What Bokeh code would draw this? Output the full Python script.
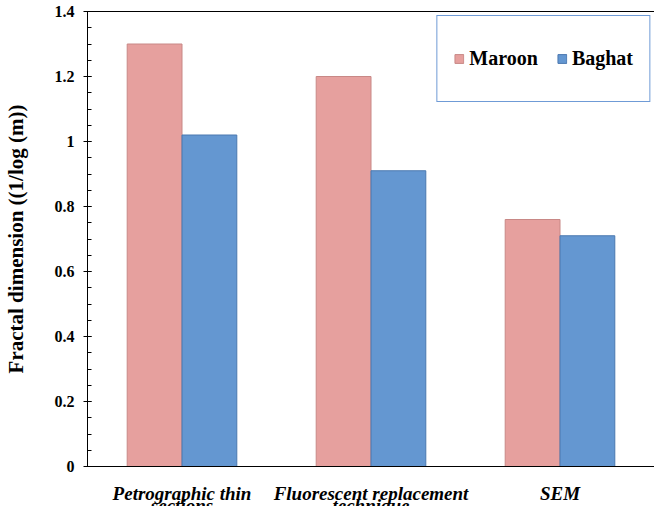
from bokeh.plotting import figure
from bokeh.layouts import column
from bokeh.models import (ColumnDataSource, FactorRange, Range1d, FixedTicker, CustomJSTickFormatter,
                          Legend, LegendItem, CategoricalAxis)
from bokeh.core.properties import value
from bokeh.transform import dodge
from bokeh.embed import file_html
from bokeh.resources import INLINE

categories = ["Petrographic thin\nsections", "Fluorescent replacement\ntechnique", "SEM"]
maroon = [1.30, 1.20, 0.76]
baghat = [1.02, 0.91, 0.71]
y_ticks = [0, 0.2, 0.4, 0.6, 0.8, 1.0, 1.2, 1.4]
y_minor = [round(0.05 * i, 2) for i in range(29)]

SERIF = "Liberation Serif"
PINK = "#e6a09e"
BLUE = "#6497d1"

first_lines = [c.split("\n")[0] for c in categories]
second_lines = [c.split("\n")[1] if "\n" in c else "" for c in categories]

source = ColumnDataSource(dict(cat=first_lines, maroon=maroon, baghat=baghat))
x_range = FactorRange(*first_lines, range_padding=0.0)

# ---------------- main chart ----------------
p = figure(x_range=x_range, y_range=Range1d(0, 1.4),
           width=654, height=476, output_backend="svg", toolbar_location=None,
           min_border_left=82, min_border_right=0, min_border_top=11, min_border_bottom=10)
p.outline_line_color = None
p.grid.grid_line_color = None

r1 = p.vbar(x=dodge("cat", -0.145, range=x_range), top="maroon", width=0.29, source=source,
            fill_color=PINK, line_color="#c88886", line_width=1)
r2 = p.vbar(x=dodge("cat", 0.145, range=x_range), top="baghat", width=0.29, source=source,
            fill_color=BLUE, line_color="#4b78b0", line_width=1)

yax = p.yaxis[0]
yax.ticker = FixedTicker(ticks=y_ticks, minor_ticks=y_minor)
yax.formatter = CustomJSTickFormatter(code="return tick.toFixed(1).replace(/\\.0$/, '');")
yax.major_tick_in = 4
yax.major_tick_out = 4
yax.minor_tick_in = 4
yax.minor_tick_out = 0
yax.axis_line_color = "black"
yax.major_tick_line_color = "black"
yax.minor_tick_line_color = "black"
yax.major_label_text_font = SERIF
yax.major_label_text_font_style = "bold"
yax.major_label_text_font_size = "16px"
yax.major_label_text_color = "black"
yax.major_label_standoff = 9
yax.axis_label = "Fractal dimension ((1/log (m))"
yax.axis_label_text_font = SERIF
yax.axis_label_text_font_style = "bold"
yax.axis_label_text_font_size = "21px"
yax.axis_label_text_color = "black"
yax.axis_label_standoff = 24

xax = p.xaxis[0]
xax.axis_line_color = "black"
xax.major_tick_line_color = None
xax.minor_tick_line_color = None
xax.major_label_text_font_size = "0px"
xax.major_label_standoff = 0

top_axis = CategoricalAxis(major_label_text_font_size="0px", major_tick_line_color=None,
                           minor_tick_line_color=None, axis_line_color="black", major_label_standoff=0)
p.add_layout(top_axis, "above")

legend = Legend(items=[LegendItem(label="Maroon", renderers=[r1]),
                       LegendItem(label="Baghat", renderers=[r2])],
                orientation="horizontal", location="top_right", margin=4,
                label_text_font=SERIF, label_text_font_style="bold", label_text_font_size="20px",
                label_text_color="black", glyph_width=11, glyph_height=11, label_standoff=5,
                spacing=18, padding=16, label_height=53,
                border_line_color="#6f9bd6", border_line_width=1.5, border_line_alpha=1.0,
                background_fill_color="white", background_fill_alpha=1.0)
p.add_layout(legend)

# ---------------- category labels strip (shares the x range) ----------------
q = figure(x_range=x_range, y_range=Range1d(0, 30), title=None,
           width=654, height=30, output_backend="svg", toolbar_location=None,
           min_border_left=82, min_border_right=0, min_border_top=0, min_border_bottom=0,
           x_axis_type=None, y_axis_type=None)
q.outline_line_color = None
q.grid.grid_line_color = None

lab_src = ColumnDataSource(dict(cat=first_lines + first_lines,
                                txt=first_lines + second_lines,
                                y=[13] * len(first_lines) + [1] * len(second_lines)))
q.text(x="cat", y="y", text="txt", source=lab_src, text_align="center", text_baseline="alphabetic",
       text_font=value(SERIF), text_font_style="bold italic", text_font_size="19px", text_color="black")

layout = column(p, q, spacing=0)
open("out.html", "w").write(file_html(layout, INLINE))
